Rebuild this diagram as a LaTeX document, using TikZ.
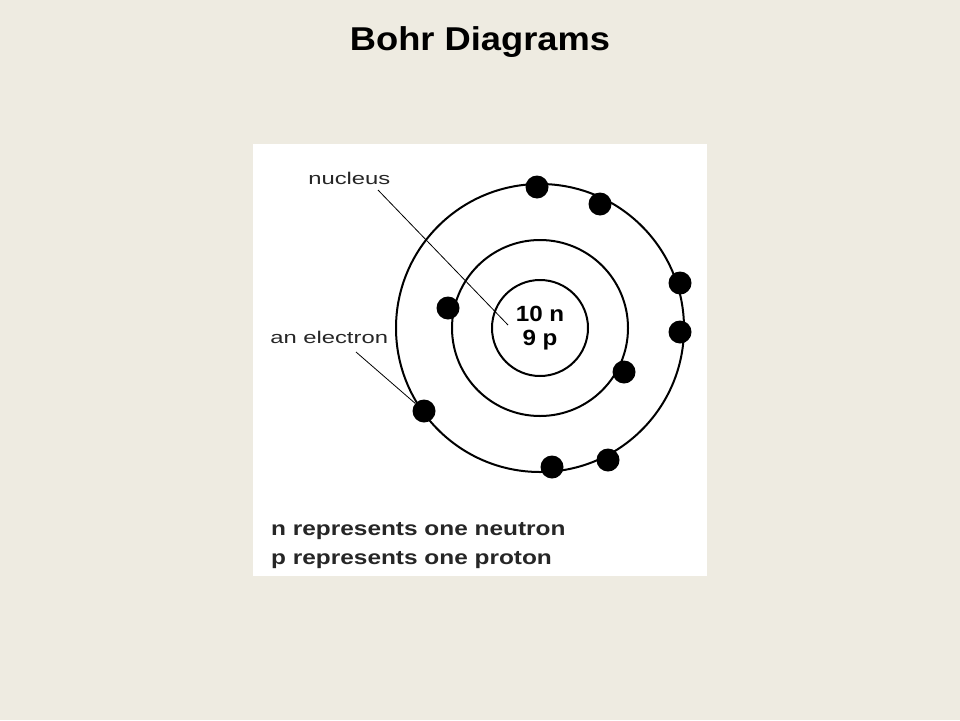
\documentclass[tikz,border=0pt]{standalone}
\usepackage{fontspec}
\setmainfont{Liberation Sans}
\definecolor{bg}{HTML}{EEEBE1}
\begin{document}
\begin{tikzpicture}[x=1pt,y=-1pt,
  orbit/.style={draw=black,line width=2pt},
  electron/.style={circle,fill=black,minimum size=23pt,inner sep=0pt},
  lbl/.style={font=\fontsize{17}{19}\selectfont,text=black!85,anchor=west,inner sep=0pt,xscale=1.4},
  legend/.style={font=\fontsize{20}{22}\selectfont\bfseries,text=black!85,anchor=west,inner sep=0pt,xscale=1.22},
  leader/.style={draw=black,line width=0.8pt}]
\fill[bg] (0,0) rectangle (960,720);
\useasboundingbox (0,0) rectangle (960,720);
\node[font=\fontsize{33}{36}\selectfont\bfseries,xscale=1.1] (title) at (480,42) {Bohr Diagrams};
\fill[white] (253,144) rectangle (707,576);
\coordinate (c) at (540,328);
\draw[orbit] (c) circle (48);
\draw[orbit] (c) circle (88);
\draw[orbit] (c) circle (144);
\node[font=\fontsize{22}{24}\selectfont\bfseries,align=center,xscale=1.1] (nuc) at (c) {10 n\\9 p};
\foreach \n/\x/\y in {e1/537/187,e2/600/204,e3/680/283,e4/680/332,e5/608/460,e6/552/467,e7/424/411,e8/448/308,e9/624/372}
  \node[electron] (\n) at (\x,\y) {};
\node[lbl] (lnuc) at (308,178) {nucleus};
\node[lbl] (lel) at (270,337) {an electron};
\coordinate (nend) at (508,325);
\draw[leader] (378,190) -- (nend);
\draw[leader] (356,352) -- (e7);
\node[legend] (leg1) at (271,531) {n represents one neutron};
\node[legend] (leg2) at (271,560) {p represents one proton};
\end{tikzpicture}
\end{document}
